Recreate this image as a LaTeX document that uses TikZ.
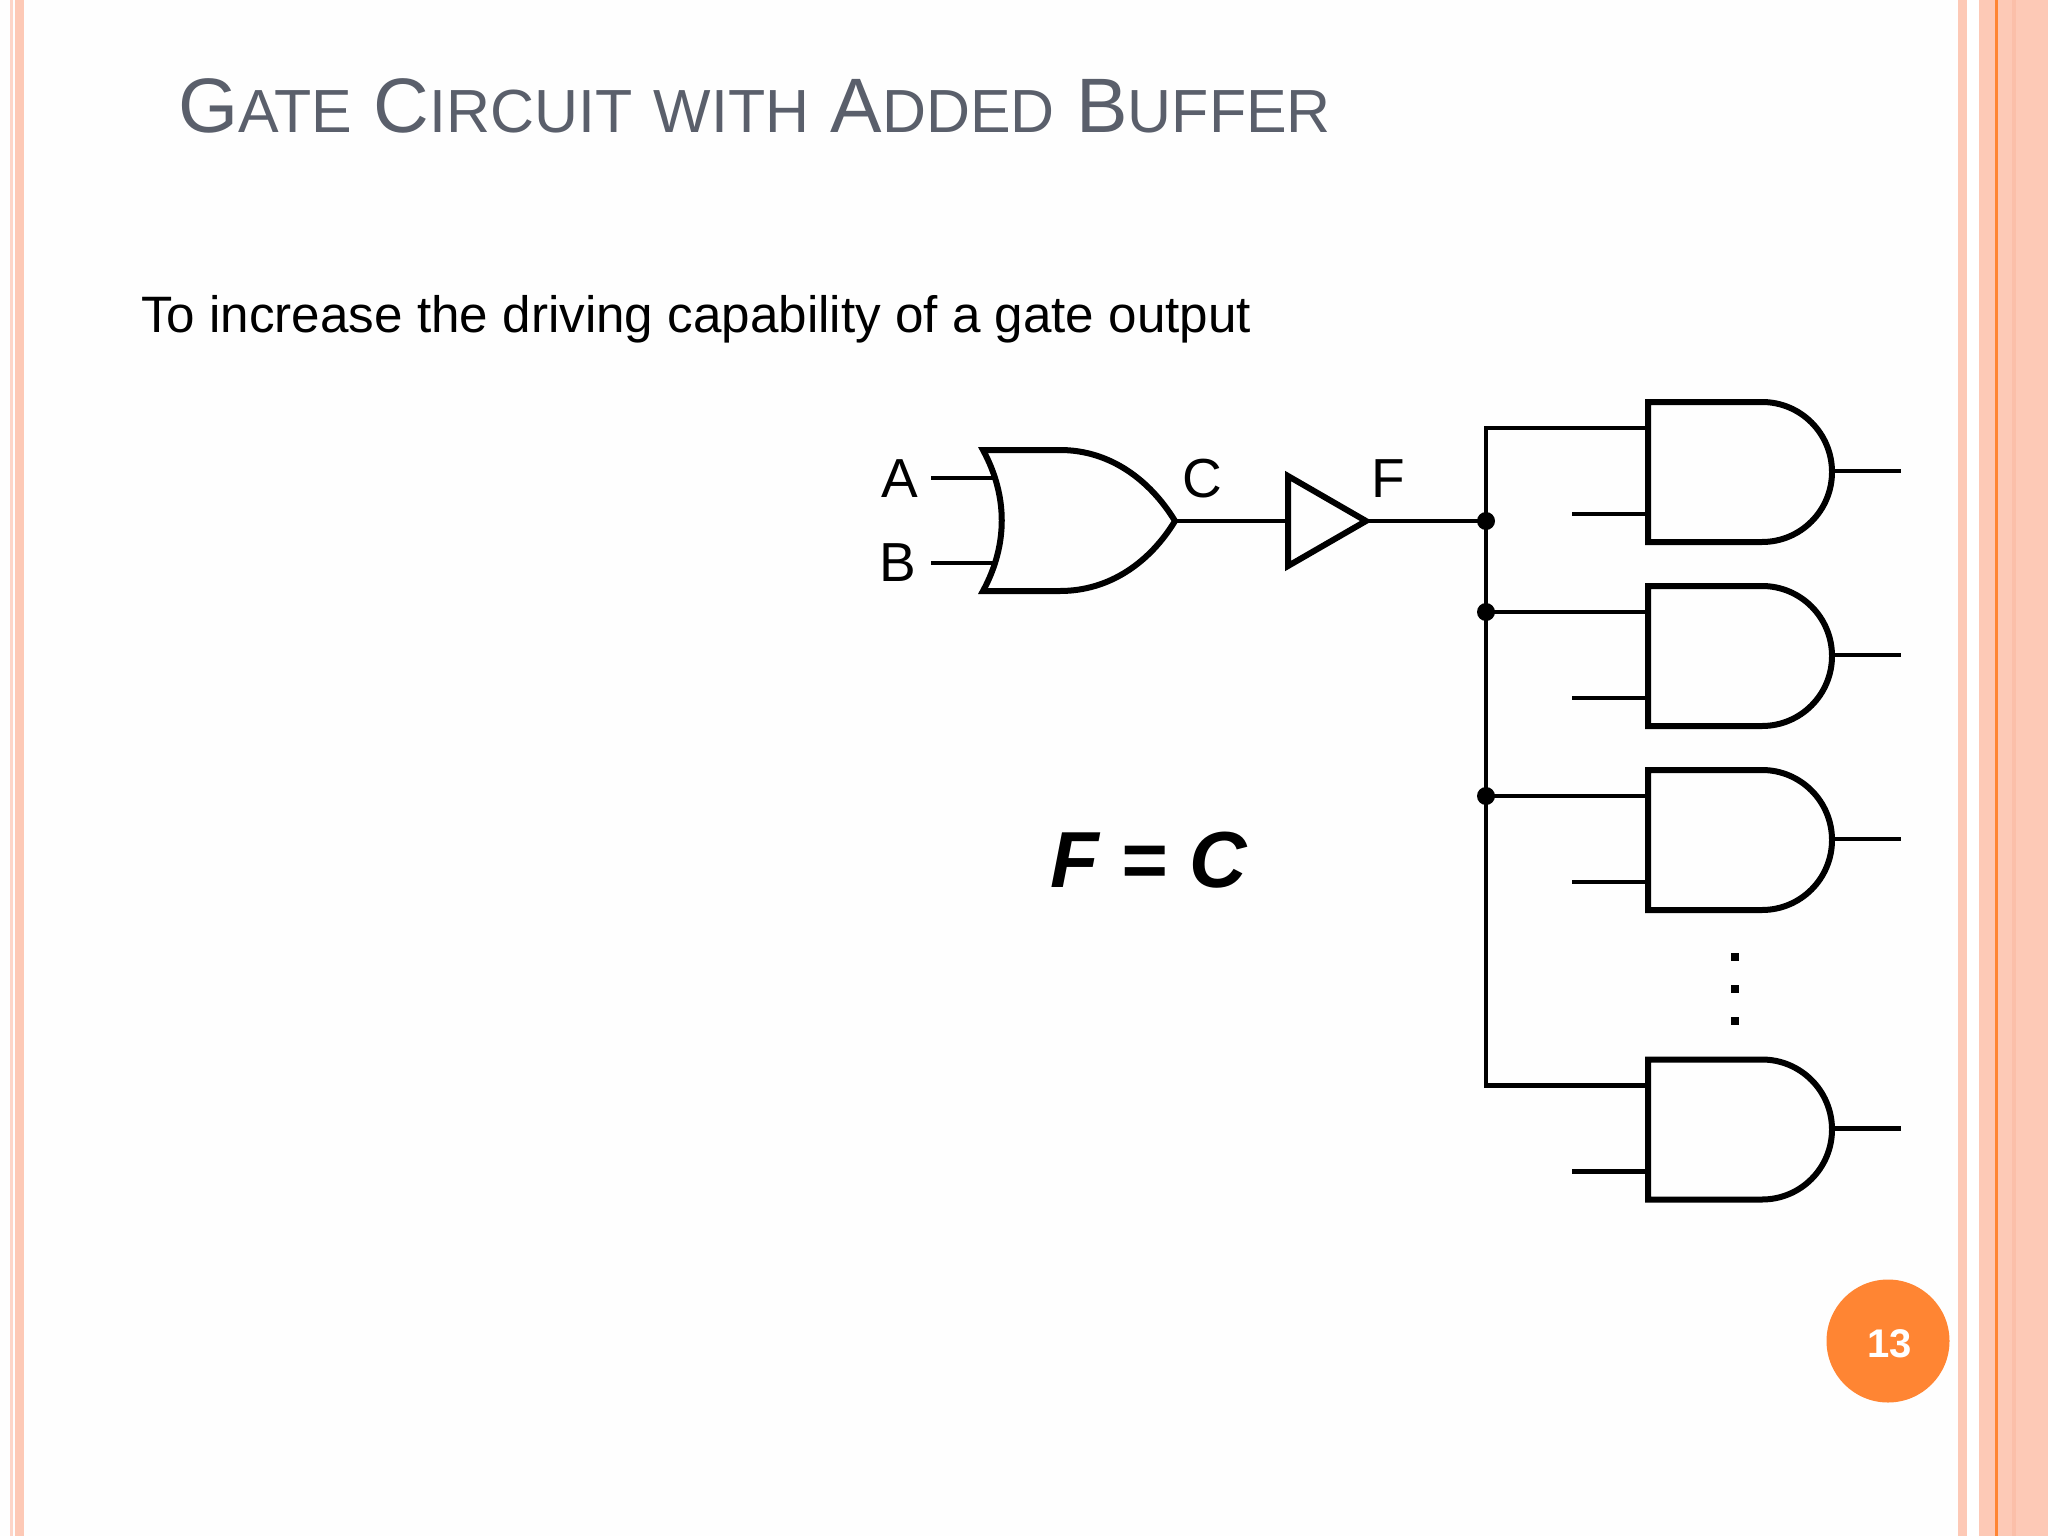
\documentclass[tikz,border=0pt]{standalone}
\usepackage{fontspec}
\setmainfont{Liberation Sans}
\definecolor{salmon}{HTML}{FDC9B6}
\definecolor{salmonb}{HTML}{FBBFA9}
\definecolor{pale}{HTML}{FDD5C8}
\definecolor{accent}{HTML}{FF8533}
\definecolor{titlegray}{HTML}{5A5F6B}
\newcommand{\fs}[1]{\fontsize{#1}{#1}\selectfont}
\newcommand{\ttl}[2]{{\fs{77.2}#1}{\fs{60.9}#2}}
\tikzset{
  wire/.style={line width=4.5pt,line cap=butt,line join=miter},
  gate/.style={line width=6pt,line join=miter},
  dot/.style={circle,fill=black,inner sep=0pt,minimum size=18pt},
  lab/.style={inner sep=0pt,font=\fs{55}},
  stripe/.style={draw=none}
}
\begin{document}
\begin{tikzpicture}[x=1pt,y=-1pt]
\useasboundingbox (0,0) rectangle (2048,1536);
\fill[white!99.5!black] (0,0) rectangle (2048,1536);
% side stripes
\fill[stripe,fill=pale] (9.5,0) rectangle (13,1536);
\fill[stripe,fill=salmon] (15,0) rectangle (24,1536);
\fill[stripe,fill=salmon] (1958,0) rectangle (1967,1536);
\fill[stripe,fill=white] (1967,0) rectangle (1979,1536);
\fill[stripe,fill=salmon] (1979,0) rectangle (2048,1536);
\fill[stripe,fill=accent] (1995,0) rectangle (1998,1536);
\fill[stripe,fill=salmonb] (2012,0) rectangle (2016,1536);
% title and text
\node[anchor=base west,inner sep=0pt,text=titlegray,font=\fs{77.2}] (title) at (178,133)
  {\ttl{G}{ATE} \ttl{C}{IRCUIT} {\fs{60.9}WITH} \ttl{A}{DDED} \ttl{B}{UFFER}};
\node[anchor=base west,inner sep=0pt,font=\fs{51.2}] (body) at (141,332)
  {To increase the driving capability of a gate output};
\node[anchor=base west,inner sep=0pt,font=\fs{79.5}\bfseries\itshape] (eq) at (1050,887) {F = C};
% OR gate
\draw[gate] (983,450) -- (1060,450) .. controls (1110,450) and (1150,480) .. (1175,521)
  .. controls (1150,562) and (1110,591) .. (1060,591) -- (983,591)
  .. controls (1008,545) and (1008,496) .. (983,450) -- cycle;
\coordinate (ora) at (994,478);
\coordinate (orb) at (994,563);
\coordinate (orout) at (1175,521);
\coordinate (ina) at (931,478);
\coordinate (inb) at (931,563);
\draw[wire] (ina) -- (ora);
\draw[wire] (inb) -- (orb);
\node[lab,anchor=base] (la) at (900,497) {A};
\node[lab,anchor=base] (lb) at (898,581) {B};
\node[lab,anchor=base] (lc) at (1202,497) {C};
\node[lab,anchor=base] (lf) at (1388,497) {F};
% buffer
\draw[gate] (1288,476) -- (1366,521) -- (1288,566) -- cycle;
\coordinate (bufin) at (1288,521);
\coordinate (bufout) at (1366,521);
\draw[wire] (orout) -- (bufin);
% bus
\node[dot] (d1) at (1486,521) {};
\node[dot] (d2) at (1486,612) {};
\node[dot] (d3) at (1486,796) {};
\draw[wire] (bufout) -- (d1.center);
% AND gates
\foreach \n/\c in {1/472,2/656,3/840,4/1129.5}{
  \draw[gate] (1648,\c-70) -- (1762,\c-70) arc[start angle=-90,end angle=90,radius=70] -- (1648,\c+70) -- cycle;
  \coordinate (u\n) at (1648,\c-44);
  \coordinate (l\n) at (1648,\c+42);
  \coordinate (lf\n) at (1572,\c+42);
  \coordinate (o\n) at (1832,\c-1);
  \coordinate (e\n) at (1901,\c-1);
  \draw[wire] (lf\n) -- (l\n);
  \draw[wire] (o\n) -- (e\n);
}
\draw[wire] (u1) -- (1486,428) |- (u4);
\draw[wire] (d2.center) -- (u2);
\draw[wire] (d3.center) -- (u3);
% ellipsis
\fill (1731,953) rectangle (1739,961);
\fill (1731,985) rectangle (1739,993);
\fill (1731,1017) rectangle (1739,1025);
% page number
\node[circle,fill=accent,minimum size=123pt,inner sep=0pt] (pg) at (1888,1341) {};
\node[inner sep=0pt,text=white,font=\fs{40}\bfseries] (pgt) at (1889.5,1343.5) {13};
\end{tikzpicture}
\end{document}
